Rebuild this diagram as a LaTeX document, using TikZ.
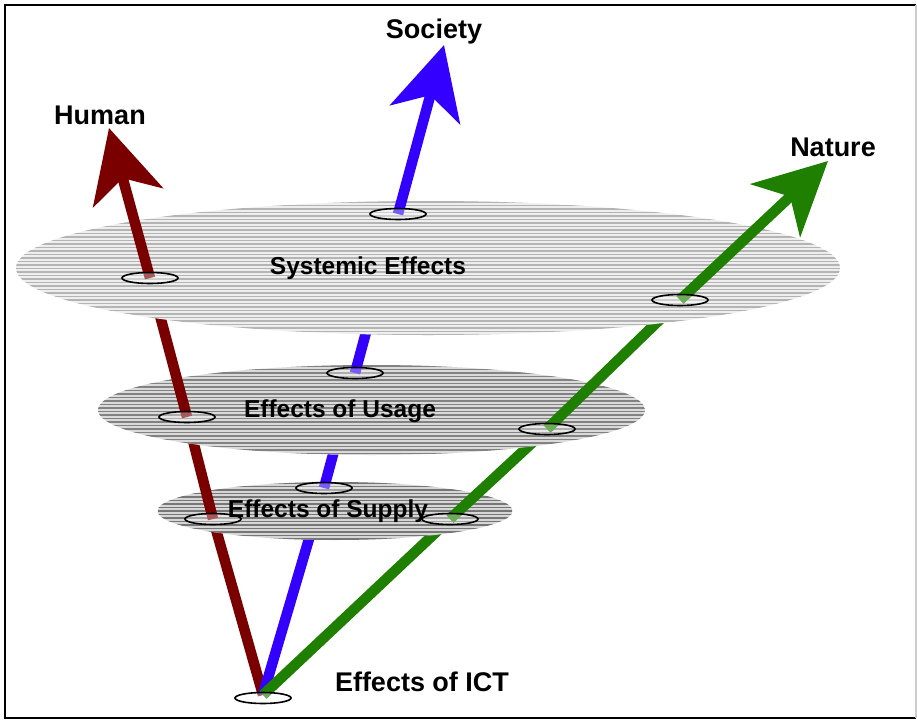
\documentclass[tikz,border=0pt]{standalone}
\usepackage{fontspec}
\setmainfont{Liberation Sans}
\usetikzlibrary{arrows.meta,shapes.geometric}
\definecolor{hred}{HTML}{7A0000}
\definecolor{sblue}{HTML}{3300FF}
\definecolor{ngreen}{HTML}{1F7F00}
\definecolor{sysstripe}{HTML}{B4B4B4}
\definecolor{sysfill}{HTML}{EEEEEE}
\definecolor{usestripe}{HTML}{828282}
\definecolor{usefill}{HTML}{DADADA}
\definecolor{supstripe}{HTML}{767676}
\definecolor{supfill}{HTML}{D6D6D6}
\tikzset{
  disk/.style n args={4}{ellipse, inner sep=0pt, outer sep=0pt, minimum width=#1, minimum height=#2,
    fill=#4, path picture={
      \foreach \k in {0,...,45}
        \draw[#3, line width=1.6pt]
          ([yshift=-\k*3.5pt-1pt]path picture bounding box.north west) --
          ([yshift=-\k*3.5pt-1pt]path picture bounding box.north east);}},
  ring/.style={ellipse, inner sep=0pt, minimum width=56pt, minimum height=11pt,
    draw=black, line width=1.6pt, fill=white, fill opacity=0.35, text opacity=1},
  shaft/.style={line width=10.5pt},
  bigtip/.style={-{Stealth[length=72pt,width=72pt,inset=20pt]}},
  axislabel/.style={font=\bfseries\fontsize{27}{30}\selectfont},
  disklabel/.style={font=\bfseries\fontsize{24.5}{28}\selectfont},
}
\begin{document}
\begin{tikzpicture}[x=1pt,y=-1pt]
\useasboundingbox (0,0) rectangle (917,720);
\fill[white] (0,0) rectangle (917,720);
% frame
\draw[black, line width=2pt] (916,718) -- (5,718) -- (5,5) -- (916,5);
\draw[gray!40, line width=1.5pt] (916,5) -- (916,718);

% anchor points
\coordinate (base) at (263,695);
\coordinate (htip) at (109,128);
\coordinate (stip) at (444,45);
\coordinate (ntip) at (828,161);

% base -> supply
\coordinate (hsp) at (213,519);
\coordinate (ssp) at (324,488);
\coordinate (nsp) at (450,519);
\draw[shaft, hred] (base) -- (hsp);
\draw[shaft, sblue] (base) -- (ssp);
\draw[shaft, ngreen] (base) -- (nsp);

% supply disk
\node[disk={355pt}{58pt}{supstripe}{supfill}] (supply) at (335,511) {};
\coordinate (hus) at (187,417);
\coordinate (sus) at (355,373);
\coordinate (nus) at (547,429);
\draw[shaft, hred] (hsp) -- (hus);
\draw[shaft, sblue] (ssp) -- (sus);
\draw[shaft, ngreen] (nsp) -- (nus);
\node[ring] (hsr) at (hsp) {};
\node[ring] (ssr) at (ssp) {};
\node[ring] (nsr) at (nsp) {};

% usage disk
\node[disk={547pt}{90pt}{usestripe}{usefill}] (usage) at (371.5,410) {};
\coordinate (hsy) at (150,278);
\coordinate (ssy) at (398,214);
\coordinate (nsy) at (680,300);
\draw[shaft, hred] (hus) -- (hsy);
\draw[shaft, sblue] (sus) -- (ssy);
\draw[shaft, ngreen] (nus) -- (nsy);
\node[ring] (hur) at (hus) {};
\node[ring] (sur) at (sus) {};
\node[ring] (nur) at (nus) {};

% systemic disk
\node[disk={824pt}{134pt}{sysstripe}{sysfill}] (systemic) at (428,268) {};
\draw[shaft, bigtip, hred] (hsy) -- (htip);
\draw[shaft, bigtip, sblue] (ssy) -- (stip);
\draw[shaft, bigtip, ngreen] (nsy) -- (ntip);
\node[ring] (hyr) at (hsy) {};
\node[ring] (syr) at (ssy) {};
\node[ring] (nyr) at (nsy) {};

% base ring
\node[ring] (baser) at (263,698) {};

% labels
\node[axislabel] (lhuman) at (100,115) {Human};
\node[axislabel] (lsociety) at (434,32) {Society};
\node[axislabel] (lnature) at (833,147) {Nature};
\node[axislabel] (lict) at (422,682) {Effects of ICT};
\node[disklabel] (lsys) at (368,268) {Systemic Effects};
\node[disklabel] (luse) at (340,411) {Effects of Usage};
\node[disklabel] (lsup) at (328,511) {Effects of Supply};
\end{tikzpicture}
\end{document}
